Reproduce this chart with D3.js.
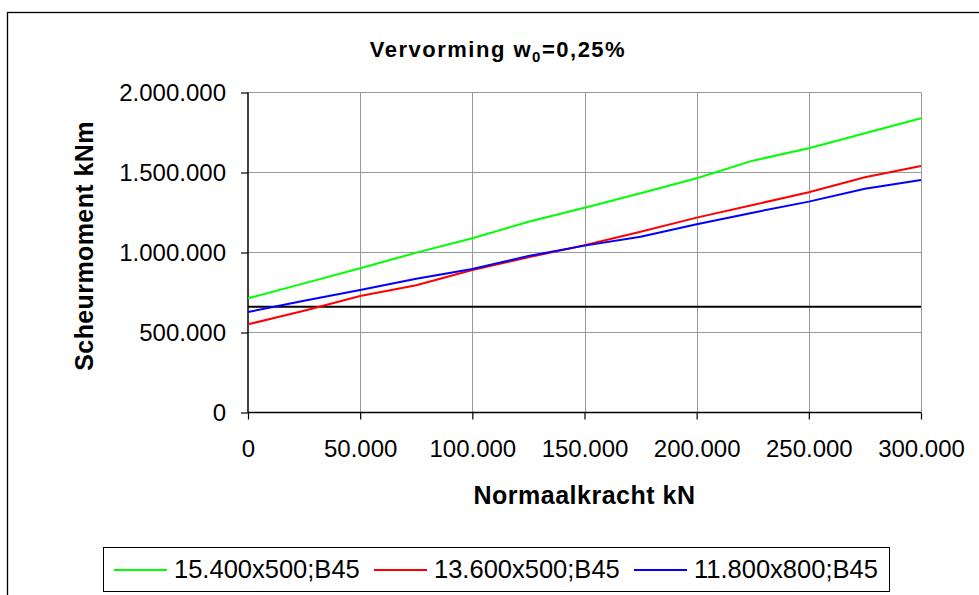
<!DOCTYPE html>
<html><head><meta charset="utf-8">
<script src="https://cdn.jsdelivr.net/npm/d3@7"></script>
<style>body{margin:0;background:#fff}svg{display:block}text{font-family:Arial,"Liberation Sans",sans-serif}</style>
</head><body>
<svg id="c" width="979" height="595"></svg>
<script>
const xValues = [0,25000,50000,75000,100000,125000,150000,175000,200000,225000,250000,275000,300000];
const seriesNames = ["15.400x500;B45","13.600x500;B45","11.800x800;B45"];
const seriesColors = ["#00ff00","#ff0000","#0000ff"];
const greenValues = [714000,807000,901000,999000,1089000,1192000,1280000,1370000,1464000,1574000,1651000,1745000,1839000];
const redValues   = [551000,636000,728000,795000,891000,970000,1045000,1130000,1218000,1297000,1376000,1470000,1541000];
const blueValues  = [628000,699000,766000,836000,897000,978000,1043000,1099000,1176000,1249000,1318000,1399000,1453000];
const limitValue = 661000;
const xTicks = [0,50000,100000,150000,200000,250000,300000];
const yTicks = [0,500000,1000000,1500000,2000000];

const svg = d3.select("#c");
const L = 248, R = 921, T = 92.5, B = 412.5;
const x = d3.scaleLinear().domain([0,300000]).range([L,R]);
const y = d3.scaleLinear().domain([0,2000000]).range([B,T]);
const loc = d3.formatLocale({decimal:",",thousands:".",grouping:[3],currency:["","€"]});
const fmt = loc.format(",.0f");

svg.append("rect").attr("x",7.5).attr("y",12.5).attr("width",1000).attr("height",1000)
  .attr("fill","#fff").attr("stroke","#000").attr("stroke-width",1.3);

const g = svg.append("g");
g.selectAll(".gx").data(xTicks.slice(1)).join("line")
  .attr("x1",d=>Math.round(x(d))+0.5).attr("x2",d=>Math.round(x(d))+0.5).attr("y1",T).attr("y2",B)
  .attr("stroke","#999").attr("stroke-width",1);
g.selectAll(".gy").data(yTicks.slice(1)).join("line")
  .attr("y1",d=>y(d)).attr("y2",d=>y(d)).attr("x1",L).attr("x2",R)
  .attr("stroke","#999").attr("stroke-width",1);

const yAxis = d3.axisLeft(y).tickValues(yTicks).tickFormat(fmt).tickSize(7).tickPadding(15);
const ya = svg.append("g").attr("transform",`translate(${L},0)`).call(yAxis);
const xAxis = d3.axisBottom(x).tickValues(xTicks).tickFormat(fmt).tickSize(7).tickPadding(20);
const xa = svg.append("g").attr("transform",`translate(0,${B})`).call(xAxis);
[ya,xa].forEach(a=>{
  a.select(".domain").attr("stroke","#000").attr("stroke-width",1.5);
  a.selectAll(".tick line").attr("stroke","#000").attr("stroke-width",1.2);
  a.selectAll(".tick text").attr("font-size",24).attr("fill","#000")
    .style("font-family","Arial, 'Liberation Sans', sans-serif");
});
ya.select(".domain").attr("d",`M0,${B}V${T}`);
xa.select(".domain").attr("d",`M${L},0H${R}`);

svg.append("line").attr("x1",x(0)).attr("x2",x(300000)).attr("y1",y(limitValue)).attr("y2",y(limitValue))
  .attr("stroke","#000").attr("stroke-width",2);

const allSeries = [greenValues,redValues,blueValues];
const line = d3.line().x((d,i)=>x(xValues[i])).y(d=>y(d));
allSeries.forEach((s,k)=>{
  svg.append("path").attr("d",line(s)).attr("fill","none")
    .attr("stroke",seriesColors[k]).attr("stroke-width",2);
});

svg.append("text").attr("x",498).attr("y",57).attr("text-anchor","middle")
  .attr("font-size",22).attr("font-weight","bold").attr("letter-spacing",1.5).attr("fill","#000")
  .call(t=>{t.append("tspan").text("Vervorming w");
            t.append("tspan").attr("font-size",15).attr("dy",5).text("0");
            t.append("tspan").attr("dy",-5).text("=0,25%");});
svg.append("text").attr("x",(L+R)/2).attr("y",504).attr("text-anchor","middle")
  .attr("font-size",25).attr("font-weight","bold").attr("letter-spacing",0.5).attr("fill","#000").text("Normaalkracht kN");
svg.append("text").attr("transform",`translate(93,246) rotate(-90)`).attr("text-anchor","middle")
  .attr("font-size",25).attr("font-weight","bold").attr("letter-spacing",0.4).attr("fill","#000").text("Scheurmoment kNm");

const lg = svg.append("g");
lg.append("rect").attr("x",103.5).attr("y",547.5).attr("width",786).attr("height",44)
  .attr("fill","#fff").attr("stroke","#000").attr("stroke-width",1);
const legX = [114,374,634];
seriesNames.forEach((n,k)=>{
  lg.append("line").attr("x1",legX[k]).attr("x2",legX[k]+53).attr("y1",570).attr("y2",570)
    .attr("stroke",seriesColors[k]).attr("stroke-width",2);
  lg.append("text").attr("x",legX[k]+60).attr("y",578).attr("font-size",25.5).attr("fill","#000").text(n);
});
</script>
</body></html>
